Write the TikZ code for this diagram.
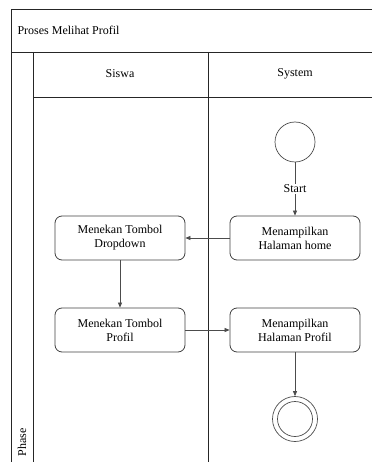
\documentclass[tikz,border=0pt]{standalone}
\usepackage{fontspec}
\setmainfont{Liberation Serif}
\usetikzlibrary{arrows.meta}
\begin{document}
\begin{tikzpicture}[x=1pt,y=-1pt,
  frame/.style={draw=black!85,line width=0.9pt},
  act/.style={draw=black!75,line width=0.8pt,rounded corners=7pt,minimum width=130pt,minimum height=44pt,align=center,font=\fontsize{12}{14}\selectfont,inner sep=2pt},
  flow/.style={draw=black!70,line width=0.7pt,-{Triangle[length=5pt,width=4pt]}},
  lbl/.style={font=\fontsize{12}{14}\selectfont}]
\useasboundingbox (0,0) rectangle (372,462);
% pool frame, title bar and lanes
\draw[frame] (372,9) -- (11,9) -- (11,462);
\draw[frame] (11,52) -- (372,52);
\draw[frame] (33,52) -- (33,462);
\draw[frame] (33,97) -- (372,97);
\draw[frame] (208,52) -- (208,462);
\node[lbl,anchor=west] (title) at (14,30) {Proses Melihat Profil};
\node[lbl] (siswa) at (120,74) {Siswa};
\node[lbl] (system) at (295,74) {System};
\node[lbl,rotate=90,anchor=west] (phase) at (22,460) {Phase};
% activities
\node[draw=black!70,line width=0.7pt,circle,minimum size=40pt,inner sep=0pt] (start) at (295,142) {};
\node[act] (home) at (295,238) {Menampilkan\\Halaman home};
\node[act] (drop) at (120,238) {Menekan Tombol\\Dropdown};
\node[act] (tprof) at (120,330) {Menekan Tombol\\Profil};
\node[act] (hprof) at (295,330) {Menampilkan\\Halaman Profil};
\node[draw=black!70,line width=0.7pt,circle,minimum size=45pt,inner sep=0pt] (end) at (295,419) {};
\node[draw=black!70,line width=0.7pt,circle,minimum size=35pt,inner sep=0pt] (endin) at (295,419) {};
% flows
\draw[flow] (start) -- node[lbl,fill=white,inner sep=1pt] (startlbl) {Start} (home);
\draw[flow] (home) -- (drop);
\draw[flow] (drop) -- (tprof);
\draw[flow] (tprof) -- (hprof);
\draw[flow] (hprof) -- (end);
\end{tikzpicture}
\end{document}
